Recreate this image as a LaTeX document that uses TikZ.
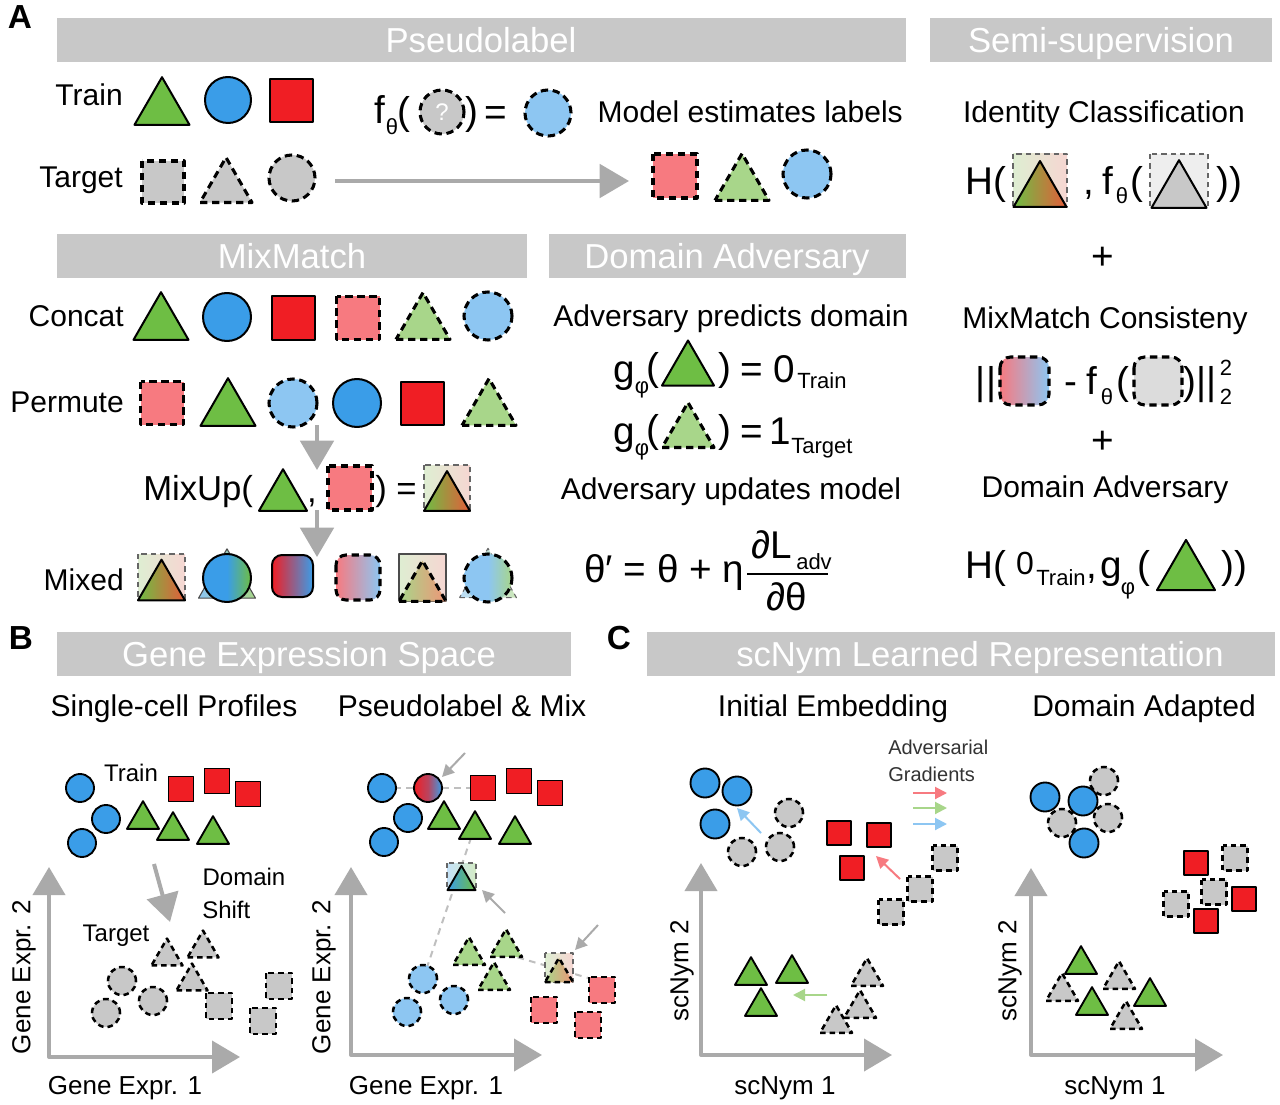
\documentclass[tikz,border=0pt]{standalone}
\usepackage{fontspec}
\setmainfont{Liberation Sans}
\usetikzlibrary{arrows.meta}
\definecolor{cG}{RGB}{110,190,68}
\definecolor{cB}{RGB}{58,157,232}
\definecolor{cR}{RGB}{240,30,36}
\definecolor{cRo}{RGB}{228,92,58}
\definecolor{cLR}{RGB}{247,122,128}
\definecolor{cLRo}{RGB}{238,150,120}
\definecolor{cLG}{RGB}{168,214,138}
\definecolor{cLB}{RGB}{141,198,242}
\definecolor{cGr}{RGB}{200,200,200}
\definecolor{cGl}{RGB}{220,220,220}
\definecolor{barc}{RGB}{200,200,200}
\definecolor{arrc}{RGB}{170,170,170}
\definecolor{bgG}{RGB}{222,238,210}
\definecolor{bgR}{RGB}{246,214,210}
\definecolor{bgGray}{RGB}{238,238,238}
\newcommand\mkTri[4]{\path[#4] ({#1-0.5*#3},{#2+0.433*#3}) -- ({#1+0.5*#3},{#2+0.433*#3}) -- ({#1},{#2-0.433*#3}) -- cycle;}
\newcommand\mkSq[4]{\path[#4] ({#1-0.5*#3},{#2-0.5*#3}) rectangle ({#1+0.5*#3},{#2+0.5*#3});}
\newcommand\mkCir[4]{\path[#4] (#1,#2) circle[radius={#3*0.75pt}];}
\tikzset{
 T/.style={inner sep=0pt, font=\fontsize{22.5}{27}\selectfont, text height=16.1pt, text depth=0pt},
 F/.style={inner sep=0pt, font=\fontsize{29}{34}\selectfont, text height=20.8pt, text depth=0pt},
 Fm/.style={inner sep=0pt, font=\fontsize{26}{31}\selectfont, text height=18.6pt, text depth=0pt},
 Sb/.style={inner sep=0pt, font=\fontsize{16.5}{20}\selectfont, text height=11.8pt, text depth=0pt},
 Hd/.style={inner sep=0pt, font=\fontsize{26}{31}\selectfont, text height=18.6pt, text depth=0pt, text=white},
 Ax/.style={inner sep=0pt, font=\fontsize{19.5}{23}\selectfont, text height=14pt, text depth=0pt},
 Sm/.style={inner sep=0pt, font=\fontsize{18}{22}\selectfont, text height=12.9pt, text depth=0pt},
 Tn/.style={inner sep=0pt, font=\fontsize{15}{18}\selectfont, text height=10.7pt, text depth=0pt, text=black!80},
 PL/.style={inner sep=0pt, font=\fontsize{25}{30}\selectfont\bfseries, text height=18pt, text depth=0pt},
 hbar/.style={fill=barc},
 sA/.style={draw=black, line width=1.5pt},
 dA/.style={draw=black, line width=2.3pt, dash pattern=on 5.5pt off 3.5pt},
 sB/.style={draw=black, line width=1.4pt},
 dB/.style={draw=black, line width=1.9pt, dash pattern=on 4.2pt off 3pt},
 thinD/.style={draw=black!60, line width=0.8pt, dash pattern=on 4pt off 3pt},
 bigarrow/.style={draw=arrc, line width=3pt, -{Triangle[length=22pt,width=25pt]}},
 axisln/.style={draw=arrc, line width=3pt, {Triangle[length=21pt,width=24pt]}-{Triangle[length=21pt,width=24pt]}},
 smarrow/.style={draw=arrc, line width=1.5pt, -{Triangle[length=9pt,width=9pt]}},
 colarrow/.style={line width=1.5pt, -{Triangle[length=9pt,width=9pt]}},
 guide/.style={draw=black!25, line width=1.5pt, dash pattern=on 5pt off 4pt},
}
\begin{document}
\begin{tikzpicture}[x=0.75pt,y=-0.75pt,line join=round]
\useasboundingbox (0,0) rectangle (1280,1105);
\path[fill=white] (0,0) rectangle (1280,1105);
% ================= Panel A =================
\node[PL] (lA) at (20,17) {A};
\path[hbar] (57,18) rectangle (906,62);
\node[Hd] (hPL) at (481,40) {Pseudolabel};
\path[hbar] (930,18) rectangle (1272,62);
\node[Hd] (hSS) at (1101,40) {Semi-supervision};
% Train / Target
\node[T, anchor=east] (tTrain) at (123,95) {Train};
\mkTri{162}{101}{55}{sA, fill=cG}
\mkCir{228}{100}{23}{sA, fill=cB}
\mkSq{291}{101}{43}{sA, fill=cR}
\node[T, anchor=east] (tTarget) at (123,177) {Target};
\mkSq{163}{182}{42}{dA, fill=cGr}
\mkTri{226}{180}{52}{dA, fill=cGr}
\mkCir{292}{178}{23}{dA, fill=cGr}
\coordinate (arA1) at (335,181);
\coordinate (arA2) at (629,181);
\draw[bigarrow] (arA1) -- (arA2);
% f(?) = ...
\node[F] (fA) at (380,110) {f};
\node[Sb] (fAs) at (392,127) {θ};
\node[F] (fAo) at (404,111) {(};
\mkCir{442}{112}{22}{dA, fill=cGr}
\node[Sm, text=white] (qm) at (442,112) {?};
\node[F] (fAc) at (472,111) {)};
\node[F] (fAeq) at (496,112) {=};
\mkCir{548}{113}{23}{dA, fill=cLB}
\node[T, anchor=east] (tModel) at (903,112) {Model estimates labels};
\mkSq{675}{176}{44}{dA, fill=cLR}
\mkTri{742}{177}{54}{dA, fill=cLG}
\mkCir{807}{174}{24}{dA, fill=cLB}
% Semi-supervision
\node[T] (tIdC) at (1104,112) {Identity Classification};
\node[F] (H1) at (986,181) {H(};
\path[left color=bgG, right color=bgR, thinD] (1013,154) rectangle (1067,207);
\mkTri{1040}{184}{53}{sA, left color=cG, right color=cRo}
\node[F] (cm1) at (1089,181) {,};
\node[F] (f2) at (1108,181) {f};
\node[Sb] (f2s) at (1122,196) {θ};
\node[F] (f2o) at (1137,181) {(};
\path[fill=bgGray, thinD] (1150,154) rectangle (1208,207);
\mkTri{1179}{184}{55}{sA, fill=cGr}
\node[F] (cl1) at (1229,181) {))};
\node[F] (pl1) at (1103,256) {+};
\node[T] (tMMC) at (1105,318) {MixMatch Consisteny};
\node[F] (nb1) at (986,381) {||};
\path[left color=cLR, right color=cLB, dA, rounded corners=8pt] (1000,357) rectangle (1049,405);
\node[F] (mn) at (1071,381) {-};
\node[F] (f3) at (1092,381) {f};
\node[Sb] (f3s) at (1107,397) {θ};
\node[F] (f3o) at (1123,381) {(};
\path[fill=cGl, dA, rounded corners=8pt] (1134,357) rectangle (1182,405);
\node[F] (f3c) at (1200,381) {)||};
\node[Sb] (sup2) at (1226,368) {2};
\node[Sb] (sub2) at (1226,397) {2};
\node[F] (pl2) at (1103,440) {+};
\node[T] (tDA2) at (1105,487) {Domain Adversary};
\node[F] (H2) at (986,565) {H(};
\node[font=\fontsize{24}{28}\selectfont, inner sep=0pt, text height=17.2pt, text depth=0pt] (z0) at (1025,563) {0};
\node[Sb] (z0s) at (1061,578) {Train};
\node[F] (cm2) at (1092,565) {,};
\node[F] (g3) at (1111,565) {g};
\node[Sb] (g3s) at (1128,587) {φ};
\node[F] (g3o) at (1144,565) {(};
\mkTri{1186}{565}{58}{sA, fill=cG}
\node[F] (cl3) at (1234,565) {))};
% Domain Adversary
\path[hbar] (549,234) rectangle (906,278);
\node[Hd] (hDA) at (727,256) {Domain Adversary};
\node[T] (tAPD) at (731,316) {Adversary predicts domain};
\node[F] (g1) at (624,369) {g};
\node[Sb] (g1s) at (642,386) {φ};
\node[F] (g1o) at (653,367) {(};
\mkTri{688}{363}{52}{sA, fill=cG}
\node[F] (g1c) at (725,367) {)};
\node[F] (g1e) at (752,369) {=};
\node[F] (g1z) at (784,369) {0};
\node[Sb, anchor=west] (g1t) at (797,381) {Train};
\node[F] (g2) at (624,431) {g};
\node[Sb] (g2s) at (642,448) {φ};
\node[F] (g2o) at (653,429) {(};
\mkTri{688}{425}{52}{dA, fill=cLG}
\node[F] (g2c) at (725,429) {)};
\node[F] (g2e) at (752,431) {=};
\node[F] (g2z) at (780,431) {1};
\node[Sb, anchor=west] (g2t) at (791,446) {Target};
\node[T] (tAUM) at (731,489) {Adversary updates model};
\node[F, anchor=west] (th1) at (584,569) {θ′ = θ + η};
\node[F] (dL) at (772,545) {∂L};
\node[Sb, anchor=west] (adv) at (796,562) {adv};
\coordinate (fb1) at (747,574);
\coordinate (fb2) at (828,574);
\draw[line width=0.9pt] (fb1) -- (fb2);
\node[F] (dth) at (787,597) {∂θ};
% MixMatch
\path[hbar] (57,234) rectangle (527,278);
\node[Hd] (hMM) at (292,256) {MixMatch};
\node[T, anchor=east] (tConcat) at (124,316) {Concat};
\mkTri{161}{316}{55}{sA, fill=cG}
\mkCir{227}{317}{24}{sA, fill=cB}
\mkSq{293}{318}{43}{sA, fill=cR}
\mkSq{358}{318}{43}{dA, fill=cLR}
\mkTri{423}{316}{54}{dA, fill=cLG}
\mkCir{488}{316}{24}{dA, fill=cLB}
\node[T, anchor=east] (tPermute) at (124,402) {Permute};
\mkSq{162}{403}{43}{dA, fill=cLR}
\mkTri{228}{402}{55}{sA, fill=cG}
\mkCir{293}{403}{24}{dA, fill=cLB}
\mkCir{357}{403}{24}{sA, fill=cB}
\mkSq{422}{403}{43}{sA, fill=cR}
\mkTri{489}{402}{54}{dA, fill=cLG}
\coordinate (mA1) at (317,425);
\coordinate (mA2) at (317,470);
\draw[bigarrow] (mA1) -- (mA2);
\node[Fm, anchor=west] (tMixUp) at (143,488) {MixUp(};
\mkTri{283}{490}{48}{sA, fill=cG}
\node[Fm] (cm4) at (312,490) {,};
\mkSq{350}{488}{44}{dA, fill=cLR}
\node[Fm, anchor=west] (mxe) at (375,488) {) =};
\path[left color=bgG, right color=bgR, thinD] (424,465) rectangle (470,511);
\mkTri{447}{491}{46}{sA, left color=cG, right color=cRo}
\coordinate (mB1) at (317,510);
\node[T, anchor=east] (tMixed) at (124,580) {Mixed};
% mixed shapes
\path[left color=bgG, right color=bgR, thinD] (138,554) rectangle (185,600);
\mkTri{161.5}{580}{47}{sA, left color=cG, right color=cRo}
\mkTri{227}{573.5}{57}{draw=black!70, line width=0.8pt, left color=cLB, right color=cLG}
\mkCir{227}{578}{24}{sA, left color=cB, right color=cG, middle color=cB}
\path[sA, left color=cR, right color=cB, rounded corners=7.5pt] (272,555) rectangle (313,597);
\path[dA, left color=cLR, right color=cLB, rounded corners=7.5pt] (336,555) rectangle (380,600);
\path[draw=black!70, line width=1pt, left color=bgG, right color=bgR] (399,554) rectangle (446,601);
\mkTri{422.5}{581}{47}{dA, left color=cLG, right color=cLRo}
\mkTri{488}{573}{57}{thinD, left color=cLB!60, right color=cLG!60}
\mkCir{488}{578}{24}{dA, left color=cLB, right color=cLG, middle color=cLB}
\coordinate (mB2) at (317,557);
\draw[bigarrow] (mB1) -- (mB2);
% ================= Panel B =================
\node[PL] (lB) at (21,637) {B};
\path[hbar] (57,632) rectangle (571,676);
\node[Hd] (hGES) at (309,654) {Gene Expression Space};
\node[T] (tSCP) at (174,706) {Single-cell Profiles};
\node[T] (tPLM) at (462,706) {Pseudolabel \& Mix};
% left plot
\coordinate (bAy) at (49,867); \coordinate (bAo) at (49,1057); \coordinate (bAx) at (240,1057);
\draw[axisln] (bAy) -- (bAo) -- (bAx);
\node[Ax, rotate=90] (yB1) at (21,977) {Gene Expr. 2};
\node[Ax] (xB1) at (125,1085) {Gene Expr. 1};
\mkCir{80}{788}{14}{sB, fill=cB}
\mkCir{106}{819}{14}{sB, fill=cB}
\mkCir{82}{843}{14}{sB, fill=cB}
\node[Sm] (tTrainB) at (131,773) {Train};
\mkSq{181}{789}{25}{sB, fill=cR}
\mkSq{217}{781}{25}{sB, fill=cR}
\mkSq{248}{794}{25}{sB, fill=cR}
\mkTri{143}{815}{32}{sB, fill=cG}
\mkTri{173}{826}{32}{sB, fill=cG}
\mkTri{213}{830}{32}{sB, fill=cG}
\coordinate (ds1) at (154,864); \coordinate (ds2) at (170,922);
\draw[draw=arrc, line width=3pt, -{Triangle[length=21pt,width=24pt]}] (ds1) -- (ds2);
\node[Sm] (tDom) at (244,877) {Domain};
\node[Sm, anchor=west] (tShift) at (202,910) {Shift};
\node[Sm] (tTargetB) at (116,933) {Target};
\mkTri{167}{952}{31}{dB, fill=cGr}
\mkTri{203}{944}{31}{dB, fill=cGr}
\mkTri{192}{977}{31}{dB, fill=cGr}
\mkCir{122}{981}{14}{dB, fill=cGr}
\mkCir{153}{1001}{14}{dB, fill=cGr}
\mkCir{106}{1013}{14}{dB, fill=cGr}
\mkSq{219}{1006}{26}{dB, fill=cGr}
\mkSq{279}{986}{26}{dB, fill=cGr}
\mkSq{263}{1021}{26}{dB, fill=cGr}
% right plot
\coordinate (bBy) at (351,867); \coordinate (bBo) at (351,1055); \coordinate (bBx) at (542,1055);
\draw[axisln] (bBy) -- (bBo) -- (bBx);
\node[Ax, rotate=90] (yB2) at (321,977) {Gene Expr. 2};
\node[Ax] (xB2) at (426,1085) {Gene Expr. 1};
\coordinate (gl1a) at (382,788); \coordinate (gl1b) at (483,788);
\coordinate (gl2a) at (475,826); \coordinate (gl2b) at (423,979);
\coordinate (gl3a) at (506,954); \coordinate (gl3b) at (602,982);
\draw[guide] (gl1a) -- (gl1b);
\draw[guide] (gl2a) -- (gl2b);
\draw[guide] (gl3a) -- (gl3b);
\mkCir{382}{788}{14}{sB, fill=cB}
\mkCir{408}{818}{14}{sB, fill=cB}
\mkCir{384}{842}{14}{sB, fill=cB}
\mkCir{428}{788}{14}{sB, left color=cR, right color=cB, middle color=cR!70!cB}
\mkSq{483}{788}{25}{sB, fill=cR}
\mkSq{519}{781}{25}{sB, fill=cR}
\mkSq{550}{793}{25}{sB, fill=cR}
\mkTri{444}{815}{32}{sB, fill=cG}
\mkTri{475}{825}{32}{sB, fill=cG}
\mkTri{515}{830}{32}{sB, fill=cG}
\path[left color=cLB!50, right color=cLG!50, thinD] (447,863) rectangle (476,889);
\mkTri{461.5}{878}{28}{sB, left color=cB, right color=cG}
\mkTri{469}{951}{32}{dB, fill=cLG}
\mkTri{506}{943}{32}{dB, fill=cLG}
\mkTri{494}{976}{32}{dB, fill=cLG}
\mkCir{423}{979}{14}{dB, fill=cLB}
\mkCir{454}{1000}{14}{dB, fill=cLB}
\mkCir{407}{1012}{14}{dB, fill=cLB}
\path[left color=bgG, right color=bgR, thinD] (545,953) rectangle (573,982);
\mkTri{559}{970}{28}{dB, left color=cLG, right color=cLRo}
\mkSq{602}{990}{26}{dB, fill=cLR}
\mkSq{544}{1010}{26}{dB, fill=cLR}
\mkSq{588}{1025}{26}{dB, fill=cLR}
\coordinate (sa1) at (465,753); \coordinate (sa2) at (442,777);
\coordinate (sb1) at (505,913); \coordinate (sb2) at (482,890);
\coordinate (sc1) at (598,925); \coordinate (sc2) at (575,950);
\draw[smarrow] (sa1) -- (sa2);
\draw[smarrow] (sb1) -- (sb2);
\draw[smarrow] (sc1) -- (sc2);
% ================= Panel C =================
\node[PL] (lC) at (619,637) {C};
\path[hbar] (647,632) rectangle (1275,676);
\node[Hd] (hSC) at (980,654) {scNym Learned Representation};
\node[T] (tIE) at (833,706) {Initial Embedding};
\node[T] (tDAd) at (1144,706) {Domain Adapted};
\node[Tn, anchor=west] (tAdv) at (888,747) {Adversarial};
\node[Tn, anchor=west] (tGrad) at (888,774) {Gradients};
\coordinate (ga1) at (913,793); \coordinate (ga2) at (947,793);
\coordinate (gb1) at (913,808); \coordinate (gb2) at (947,808);
\coordinate (gc1) at (913,824); \coordinate (gc2) at (947,824);
\draw[colarrow, draw=cLR, fill=cLR] (ga1) -- (ga2);
\draw[colarrow, draw=cLG, fill=cLG] (gb1) -- (gb2);
\draw[colarrow, draw=cLB, fill=cLB] (gc1) -- (gc2);
% left plot
\coordinate (cAy) at (701,863); \coordinate (cAo) at (701,1055); \coordinate (cAx) at (892,1055);
\draw[axisln] (cAy) -- (cAo) -- (cAx);
\node[Ax, rotate=90] (yC1) at (679,971) {scNym 2};
\node[Ax] (xC1) at (785,1085) {scNym 1};
\mkCir{705}{783}{14.5}{sB, fill=cB}
\mkCir{737}{791}{14.5}{sB, fill=cB}
\mkCir{715}{824}{14.5}{sB, fill=cB}
\mkCir{789}{813}{14}{dB, fill=cGr}
\mkCir{742}{852}{14}{dB, fill=cGr}
\mkCir{780}{847}{14}{dB, fill=cGr}
\coordinate (ba1) at (761,833); \coordinate (ba2) at (737,808);
\draw[colarrow, draw=cLB, fill=cLB] (ba1) -- (ba2);
\mkSq{839}{833}{24}{sB, fill=cR}
\mkSq{879}{835}{24}{sB, fill=cR}
\mkSq{852}{868}{24}{sB, fill=cR}
\coordinate (ra1) at (900,879); \coordinate (ra2) at (876,856);
\draw[colarrow, draw=cLR, fill=cLR] (ra1) -- (ra2);
\mkSq{945}{858}{25}{dB, fill=cGr}
\mkSq{920}{889}{25}{dB, fill=cGr}
\mkSq{891}{912}{25}{dB, fill=cGr}
\mkTri{751}{971}{32}{sB, fill=cG}
\mkTri{792}{969}{32}{sB, fill=cG}
\mkTri{761}{1002}{32}{sB, fill=cG}
\coordinate (gr1) at (827,995); \coordinate (gr2) at (793,995);
\draw[colarrow, draw=cLG, fill=cLG] (gr1) -- (gr2);
\mkTri{867}{972}{32}{dB, fill=cGr}
\mkTri{860}{1004}{32}{dB, fill=cGr}
\mkTri{836}{1019}{32}{dB, fill=cGr}
% right plot
\coordinate (cBy) at (1031,868); \coordinate (cBo) at (1031,1055); \coordinate (cBx) at (1223,1055);
\draw[axisln] (cBy) -- (cBo) -- (cBx);
\node[Ax, rotate=90] (yC2) at (1007,971) {scNym 2};
\node[Ax] (xC2) at (1115,1085) {scNym 1};
\mkCir{1104}{781}{14}{dB, fill=cGr}
\mkCir{1062}{823}{14}{dB, fill=cGr}
\mkCir{1108}{818}{14}{dB, fill=cGr}
\mkCir{1045}{797}{14.5}{sB, fill=cB}
\mkCir{1083}{801}{14.5}{sB, fill=cB}
\mkCir{1084}{843}{14.5}{sB, fill=cB}
\mkSq{1235}{858}{25}{dB, fill=cGr}
\mkSq{1214}{892}{25}{dB, fill=cGr}
\mkSq{1176}{904}{25}{dB, fill=cGr}
\mkSq{1196}{863}{24}{sB, fill=cR}
\mkSq{1244}{899}{24}{sB, fill=cR}
\mkSq{1206}{921}{24}{sB, fill=cR}
\mkTri{1062}{987}{32}{dB, fill=cGr}
\mkTri{1119}{975}{32}{dB, fill=cGr}
\mkTri{1126}{1015}{32}{dB, fill=cGr}
\mkTri{1081}{960}{32}{sB, fill=cG}
\mkTri{1092}{1001}{32}{sB, fill=cG}
\mkTri{1150}{992}{32}{sB, fill=cG}
\end{tikzpicture}
\end{document}
